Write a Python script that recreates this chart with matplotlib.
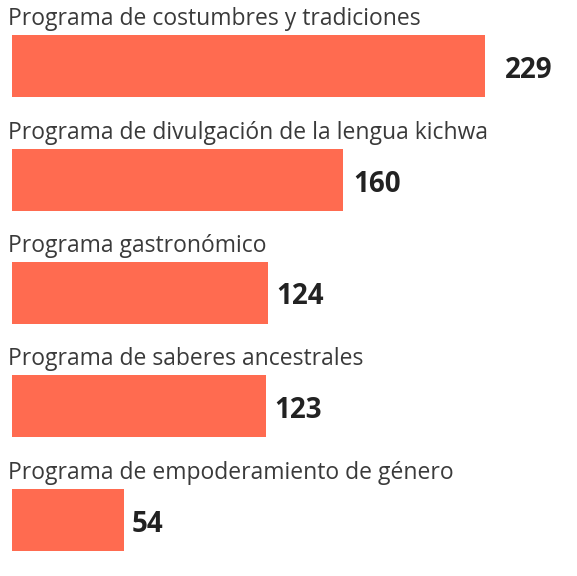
import matplotlib
matplotlib.use('Agg')
import matplotlib.pyplot as plt

labels = ['Programa de costumbres y tradiciones',
          'Programa de divulgación de la lengua kichwa',
          'Programa gastronómico',
          'Programa de saberes ancestrales',
          'Programa de empoderamiento de género']
values = [229, 160, 124, 123, 54]

plt.rcParams['font.family'] = ['Open Sans', 'DejaVu Sans']
fig = plt.figure(figsize=(5.77, 5.76), dpi=100)
ax = fig.add_axes([0, 0, 1, 1])
ax.set_xlim(-5.8, 273.5)
ax.set_ylim(576, 0)
ax.axis('off')

centers = [66, 180, 293, 406, 520]
offsets = [9.5, 5, 4, 4, 4]
for lab, v, c, off in zip(labels, values, centers, offsets):
    ax.barh(c, v, height=62, color='#FF6B50')
    ax.text(-1.8, c - 47, lab, fontsize=16.5, color='#3a3a3a', va='center', ha='left')
    ax.text(v + off, c + 4, str(v), fontsize=20, fontweight='bold', color='#222222',
            va='center', ha='left')

fig.savefig('out.png', dpi=100)
